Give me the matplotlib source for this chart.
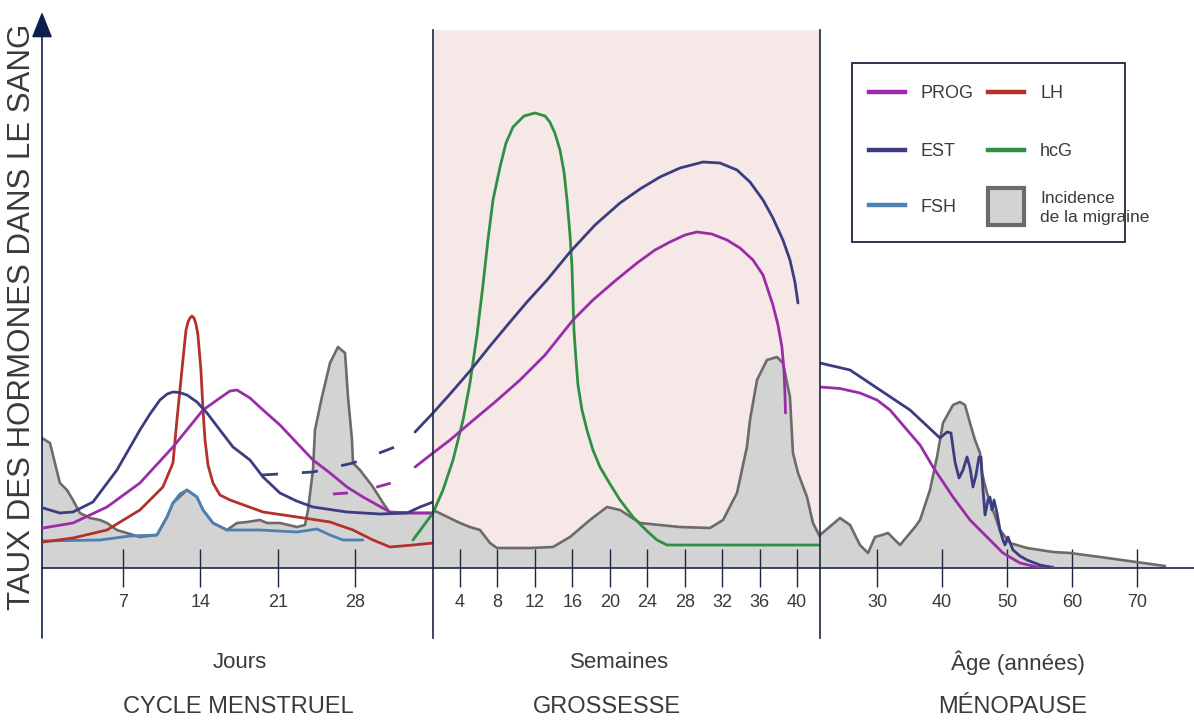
import matplotlib
matplotlib.use("Agg")
import matplotlib.pyplot as plt
from matplotlib import font_manager
from matplotlib.lines import Line2D
from matplotlib.patches import Rectangle

W, H = 1194, 720

# ---------- données : cycle menstruel (jours) ----------
est1_d = [-0.24, 1.29, 2.47, 4.28, 6.45, 8.53, 9.44, 10.34, 11.0, 11.52, 12.1, 12.79, 13.69, 14.6,
          15.77, 16.95, 18.49, 19.67, 21.2, 22.7, 24.19, 27.27, 30.25, 32.7, 33.87, 35.05]
est1_v = [12, 11, 11.2, 13.2, 19.6, 27.6, 30.8, 33.6, 34.8, 35.2, 35.1, 34.6, 33.2, 31,
          27.6, 24.2, 21.6, 18.2, 15, 13.4, 12.2, 11.2, 10.8, 11, 12.2, 13.2]

prog1_d = [-0.24, 2.47, 5.55, 8.53, 11.52, 14.24, 15.77, 16.68, 17.31, 18.49, 19.67, 21.2, 22.74,
           24.19, 25.73, 27.27, 28.71, 31.16, 33.24, 35.05]
prog1_v = [8, 9, 12.2, 17, 24.2, 31.6, 34, 35.4, 35.6, 34, 31.6, 28.6, 25,
           21.6, 19, 16.2, 14.2, 11.2, 11, 11]

lh1_d = [-0.24, 2.47, 5.55, 8.53, 10.61, 11.52, 11.88, 12.33, 12.7, 12.9, 13.06, 13.24, 13.42,
         13.6, 13.78, 14.05, 14.24, 14.42, 14.69, 15.14, 15.77, 16.68, 19.67, 22.74, 25.73, 27.81,
         29.62, 31.16, 33.24, 35.05]
lh1_v = [5.2, 6, 7.6, 11.6, 16.2, 21, 29.6, 39.6, 47.6, 49.3, 50, 50.4, 50,
         48.8, 46.6, 39.6, 31.6, 25.6, 20.6, 17, 14.6, 13.6, 11.2, 10.2, 9.2, 7.6,
         5.6, 4.2, 4.6, 5]

fsh1_d = [-0.24, 4.91, 7.63, 10.07, 10.98, 11.52, 12.15, 12.79, 13.69, 14.24, 15.14, 16.41,
          19.39, 22.74, 24.55, 25.73, 26.91, 28.71]
fsh1_v = [5.4, 5.6, 6.4, 6.6, 10.2, 13, 14.8, 15.6, 14.2, 11.6, 9, 7.6,
          7.6, 7.2, 7.8, 6.6, 5.6, 5.6]

mig1_d = [-0.33, 0.39, 0.84, 1.29, 1.93, 2.47, 3.10, 4.01, 4.91, 5.55, 6.45, 8.53, 10.07, 10.98,
          11.52, 12.79, 13.69, 14.24, 15.14, 16.41, 17.31, 18.22, 19.39, 20.03, 21.2, 22.74, 23.47,
          23.74, 24.19, 24.37, 25.0, 25.73, 26.45, 27.09, 27.36, 27.72, 27.81, 28.44, 29.62, 30.53,
          31.16, 35.05]
mig1_v = [26, 25, 21, 17, 15.6, 13.6, 11, 10, 9.6, 9, 7.6, 6.2, 6.6, 10.2,
          13, 15.6, 14.2, 11.6, 9, 7.6, 9, 9.2, 9.6, 9, 9, 8.2, 8.6,
          11.6, 19.6, 27.6, 34.2, 41, 44.2, 43, 34.2, 25.6, 21, 19.6, 16.2, 13,
          11, 11]

# prolongement en pointillés vers la grossesse
est_dash_d = [19.57, 24.19, 27.81, 31.61]
est_dash_v = [18.6, 19.2, 21, 24.2]
prog_dash_d = [26.0, 27.27, 29.98, 31.61]
prog_dash_v = [14.8, 15, 16.2, 17.2]

# ---------- données : grossesse (semaines) ----------
hcg2_w = [-1.03, 1.11, 2.18, 3.25, 4.32, 5.06, 5.81, 6.45, 6.98, 7.52, 8.27, 8.91, 9.66, 10.83,
          12.01, 13.08, 13.59, 14.13, 14.68, 15.11, 15.43, 15.75, 15.96, 16.07, 16.17, 16.39, 16.6,
          17.03, 17.56, 18.2, 18.95, 20.02, 21.09, 22.48, 23.97, 25.04, 26.11, 42.46]
hcg2_v = [5.6, 11, 15.6, 21.6, 29.6, 37, 46.6, 56.6, 65.6, 73.6, 80.2, 85, 88.2, 90.4,
          91, 90.4, 89.2, 87, 83.6, 79.2, 73.6, 66.6, 60.2, 53.6, 47.6, 41.6, 36.6,
          31.6, 27.6, 23.6, 20.2, 16.8, 13.6, 10.2, 7.4, 5.6, 4.6, 4.6]

est2_w = [-0.81, 1.11, 2.93, 5.06, 7.2, 9.34, 11.15, 13.29, 15.75, 18.42, 21.09, 23.23, 25.36,
          27.5, 29.96, 31.78, 33.59, 34.98, 36.37, 37.43, 38.5, 39.25, 39.78, 40.11]
est2_v = [27.2, 31, 34.8, 39.4, 44.4, 49.2, 53.2, 57.6, 63.2, 68.6, 73, 75.8, 78.2,
          80, 81.2, 81, 79.6, 77.2, 73.6, 70, 65.6, 61.6, 57.2, 53]

prog2_w = [-0.81, 1.11, 2.93, 5.06, 7.74, 10.41, 13.08, 16.07, 18.2, 20.55, 22.91, 24.83, 26.43,
           28.03, 29.3, 30.9, 32.52, 33.91, 35.3, 36.37, 36.9, 37.43, 37.97, 38.39, 38.61, 38.72,
           38.77]
prog2_v = [20.2, 23, 25.6, 29, 33.2, 37.6, 42.6, 49.6, 53.6, 57.4, 61, 63.6, 65.2,
           66.6, 67.2, 66.8, 65.6, 64, 61.6, 58.6, 55.6, 52.6, 48.6, 44.2, 39.6, 34.6,
           31]

mig2_w = [1.11, 4.0, 5.06, 6.13, 7.2, 7.95, 11.47, 13.93, 15.75, 17.88, 19.7, 21.09, 23.23, 27.5,
          30.7, 32.1, 33.59, 34.65, 34.98, 35.73, 36.79, 37.86, 38.5, 39.25, 39.57, 40.11, 41.07,
          41.71, 42.46]
mig2_v = [11.6, 9, 8.2, 7.6, 5, 4, 4, 4.2, 6.2, 9.6, 12.2, 11.6, 9, 8.2,
          8, 9.6, 15, 24.2, 29.6, 37.6, 41.6, 42.2, 41, 34.2, 23, 19, 14.2,
          9, 6.2]

# ---------- données : ménopause (années) ----------
est3_a = [21.23, 25.85, 30.46, 35.08, 39.69, 40.77, 41.38, 42.0, 42.62, 43.23, 43.85, 44.31, 44.77,
          45.23, 45.69, 46.0, 46.31, 46.62, 47.08, 47.38, 47.69, 48.0, 48.46, 48.92, 49.38, 49.69,
          50.15, 50.92, 52.0, 53.08, 55.08, 56.62]
est3_v = [41, 39.6, 35.6, 31.6, 26, 27.2, 27, 21.2, 18, 19.6, 22.2, 20, 16.2,
          18.6, 22.2, 22.2, 15.6, 10.6, 13.6, 14.2, 11.6, 13.6, 11, 7.6, 5.6, 4.6,
          6.2, 3.6, 2.4, 1.6, 0.6, 0.2]

prog3_a = [21.23, 24.3, 27.38, 30.0, 32.0, 34.5, 36.62, 38.62, 41.69, 44.31, 46.92, 49.38, 52.0,
           54.62, 57.08]
prog3_v = [36.2, 35.9, 35, 33.6, 31.6, 27.8, 24.6, 20.2, 14.2, 9.6, 6.2, 3, 1,
           0.2, 0.2]

mig3_a = [21.23, 24.31, 25.85, 27.38, 28.62, 29.69, 30.77, 31.69, 33.54, 35.85, 36.62, 38.15, 39.23,
          40.15, 41.69, 42.77, 43.54, 44.31, 45.08, 45.85, 46.15, 46.92, 48.92, 50.46, 53.08, 57.08,
          59.69, 64.31, 74.31]
mig3_v = [6.6, 10, 8.6, 4.6, 3, 6.2, 6.6, 7, 4.6, 8.2, 9.6, 15.6, 22.2,
          29, 32.6, 33.2, 32.6, 29, 25.6, 23, 19, 15, 7.6, 5, 4, 3.2,
          3, 2.2, 0.4]

# ---------- axes / textes ----------
day_ticks = [7, 14, 21, 28]
week_ticks = [4, 8, 12, 16, 20, 24, 28, 32, 36, 40]
age_ticks = [30, 40, 50, 60, 70]
unit_labels = ["Jours", "Semaines", "Âge (années)"]
phase_labels = ["CYCLE MENSTRUEL", "GROSSESSE", "MÉNOPAUSE"]
ylabel = "TAUX DES HORMONES DANS LE SANG"

leg_names = ["PROG", "EST", "FSH", "LH", "hcG"]
leg_mig = "Incidence\nde la migraine"

C_PROG = "#9b2ca9"
C_EST = "#3b3d80"
C_LH = "#b3312c"
C_FSH = "#4d81b3"
C_HCG = "#2f8f45"
C_MIG = "#d3d3d3"
C_MIG_EDGE = "#6b6b6b"
C_AXIS = "#1d2640"
C_TXT = "#3a3a3a"
leg_colors = [C_PROG, C_EST, C_FSH, C_LH, C_HCG]

names = {f.name for f in font_manager.fontManager.ttflist}
narrow = "Liberation Sans Narrow" if "Liberation Sans Narrow" in names else "Liberation Sans"
plt.rcParams["font.family"] = [narrow, "DejaVu Sans"]

fig = plt.figure(figsize=(W / 100, H / 100), dpi=100)


def box(x0, x1):
    return [x0 / W, 1 - 568 / H, (x1 - x0) / W, 538 / H]


ax1 = fig.add_axes(box(42, 433))
ax2 = fig.add_axes(box(433, 820))
ax3 = fig.add_axes(box(820, 1194))
ax2.set_facecolor("#f5e8e7")
ax1.set_facecolor("none")
ax3.set_facecolor("none")

ax1.set_xlim(-0.33, 35.05)
ax2.set_xlim(1.11, 42.46)
ax3.set_xlim(21.23, 78.77)

for ax, ticks in ((ax1, day_ticks), (ax2, week_ticks), (ax3, age_ticks)):
    ax.set_ylim(0, 107.6)
    ax.set_yticks([])
    ax.set_xticks(ticks)
    for s in ("top", "right", "left"):
        ax.spines[s].set_visible(False)
    ax.spines["bottom"].set_color(C_AXIS)
    ax.spines["bottom"].set_linewidth(1.2)
    ax.tick_params(axis="x", direction="inout", length=28, width=1, color=C_AXIS,
                   pad=5, labelsize=13, labelcolor=C_TXT)

lw = 2.0
kw = dict(solid_joinstyle="round", solid_capstyle="round")
# migraine
for ax, x, y in ((ax1, mig1_d, mig1_v), (ax2, mig2_w, mig2_v), (ax3, mig3_a, mig3_v)):
    ax.fill_between(x, 0, y, facecolor=C_MIG, edgecolor="none", zorder=1)
    ax.plot(x, y, color=C_MIG_EDGE, lw=1.9, zorder=2, **kw)

# cycle
ax1.plot(fsh1_d, fsh1_v, color=C_FSH, lw=lw, zorder=3, **kw)
ax1.plot(lh1_d, lh1_v, color=C_LH, lw=lw, zorder=4, **kw)
ax1.plot(prog1_d, prog1_v, color=C_PROG, lw=lw, zorder=4, **kw)
ax1.plot(est1_d, est1_v, color=C_EST, lw=lw, zorder=4, **kw)
ax1.plot(est_dash_d, est_dash_v, color=C_EST, lw=lw, dashes=(5.8, 8.6), zorder=4)
ax1.plot(prog_dash_d, prog_dash_v, color=C_PROG, lw=lw, dashes=(5.4, 10.4), zorder=4)

# grossesse
ax2.plot(hcg2_w, hcg2_v, color=C_HCG, lw=lw, zorder=4, clip_on=False, **kw)
ax2.plot(prog2_w, prog2_v, color=C_PROG, lw=lw, zorder=4, clip_on=False, **kw)
ax2.plot(est2_w, est2_v, color=C_EST, lw=lw, zorder=4, clip_on=False, **kw)

# ménopause
ax3.plot(prog3_a, prog3_v, color=C_PROG, lw=lw, zorder=4, **kw)
ax3.plot(est3_a, est3_v, color=C_EST, lw=lw, zorder=4, **kw)

# séparateurs et axe vertical
for ax in (ax2, ax3):
    ax.plot([0, 0], [-70 / 538, 1.0], transform=ax.transAxes, clip_on=False,
            color=C_AXIS, lw=1.2, zorder=6)
ax1.annotate("", xy=(0, 556 / 538), xytext=(0, -70 / 538), xycoords="axes fraction",
             arrowprops=dict(arrowstyle="-|>,head_length=1.0,head_width=0.4",
                             mutation_scale=16, color="#0e1f4d", lw=1.2,
                             shrinkA=0, shrinkB=0))

# textes sous l'axe
for x, t in zip((240, 620, 1018), unit_labels):
    fig.text(x / W, 1 - 663 / H, t, ha="center", va="center", fontsize=16, color=C_TXT)
for x, t in zip((238, 607, 1013), phase_labels):
    fig.text(x / W, 1 - 707 / H, t, ha="center", va="center", fontsize=17, color=C_TXT)

fig.text(22 / W, 1 - 317 / H, ylabel, rotation=90, ha="center", va="center",
         fontsize=22.5, color="#3a3a3a", family="Liberation Sans")

# légende
fig.add_artist(Rectangle((852 / W, 1 - 242 / H), (1125 - 852) / W, (242 - 63) / H,
                         transform=fig.transFigure, facecolor="white",
                         edgecolor=C_AXIS, lw=1.3, zorder=10))
rows = [92, 150, 205]
hx = [869, 988]
tx = [920, 1040]
for i, (name, col) in enumerate(zip(leg_names, leg_colors)):
    c, r = divmod(i, 3)
    fig.add_artist(Line2D([hx[c] / W, (hx[c] + 36) / W], [1 - rows[r] / H] * 2,
                          transform=fig.transFigure, color=col, lw=3.2, zorder=11))
    fig.text(tx[c] / W, 1 - (rows[r] + 2) / H, name, ha="left", va="center",
             fontsize=13, color=C_TXT, zorder=11)
fig.add_artist(Rectangle((988 / W, 1 - 225 / H), 36 / W, 37 / H, transform=fig.transFigure,
                         facecolor=C_MIG, edgecolor=C_MIG_EDGE, lw=3, zorder=11))
fig.text(1040 / W, 1 - 208 / H, leg_mig, ha="left", va="center", fontsize=12.5,
         color=C_TXT, linespacing=1.3, zorder=11)

fig.savefig("out.png", dpi=100)
